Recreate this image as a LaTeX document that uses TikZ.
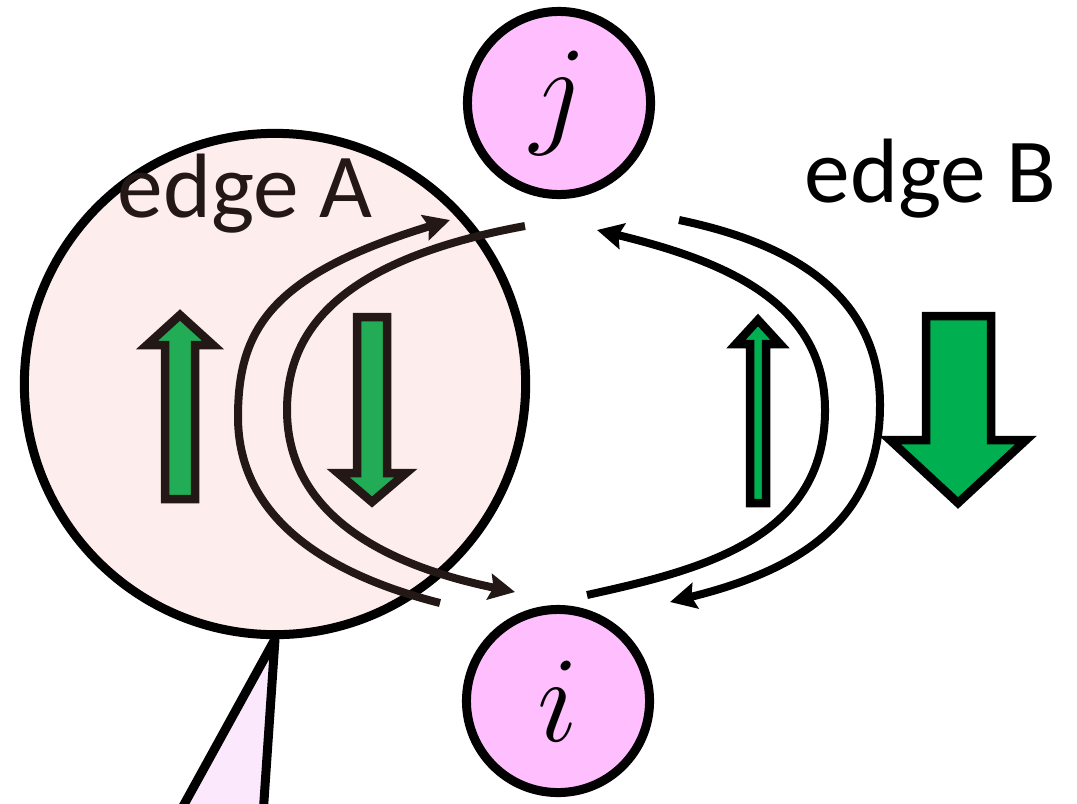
\documentclass[tikz,border=0pt]{standalone}
\usepackage{fontspec}
\newfontfamily\labelfont{Carlito}
\usetikzlibrary{arrows.meta}

\definecolor{darkbrown}{HTML}{231815}
\definecolor{vertexpink}{HTML}{FFBFFF}
\definecolor{regionpink}{HTML}{FEEDED}
\definecolor{calloutpink}{HTML}{FCE8FC}
\definecolor{greenA}{HTML}{22AC55}
\definecolor{greenB}{HTML}{00B050}

% enlarged math letter for the vertices
\newcommand{\vlabel}[1]{\scalebox{1.4}{$#1$}}

\begin{document}
\begin{tikzpicture}[
  x=0.01cm, y=-0.01cm,
  vertex/.style={circle, draw, line width=0.09cm, fill=vertexpink,
                 minimum size=1.83cm, inner sep=0pt,
                 font=\fontsize{24.88}{30}\selectfont},
  region/.style={circle, draw, line width=0.09cm, fill=regionpink,
                 minimum size=5.01cm, inner sep=0pt},
  lbl/.style={font=\labelfont\fontsize{26}{31}\selectfont,
              inner sep=0pt, anchor=base west},
  flow/.style={line width=0.08cm,
               -{Stealth[length=0.26cm, width=0.26cm, inset=0.04cm]}},
  fatarrow/.style={line width=0.085cm, miter limit=10}
]
  \useasboundingbox (0,0) rectangle (1077,803);
  \clip (0,0) rectangle (1077,803);

  % shaded region round edge A
  \node[region] (regA) at (275,384) {};

  % callout pointing at the region
  \draw[line width=0.09cm, line join=round, fill=calloutpink]
    (170,830) -- (regA.south) -- (262,830);

  % vertices
  \node[vertex] (j) at (559,103) {\vlabel{j}};
  \node[vertex] (i) at (558,701) {\vlabel{i}};

  % free ends of the flows
  \coordinate (a1) at (440,603);
  \coordinate (a2) at (450,220);
  \coordinate (a3) at (525,226);
  \coordinate (a4) at (515,592);
  \coordinate (b1) at (587,595);
  \coordinate (b2) at (597,230);
  \coordinate (b3) at (679,220);
  \coordinate (b4) at (670,602);

  % edge A: i -> j and j -> i
  \draw[flow, darkbrown] (a1) .. controls (330,575) and (238,520) .. (238,417)
                               .. controls (238,330) and (270,275) .. (a2);
  \draw[flow, darkbrown] (a3) .. controls (340,260) and (287,330) .. (287,410)
                               .. controls (287,500) and (360,560) .. (a4);

  % edge B: i -> j and j -> i
  \draw[flow] (b1) .. controls (700,570) and (825,540) .. (825,410)
                   .. controls (825,300) and (720,260) .. (b2);
  \draw[flow] (b3) .. controls (800,245) and (880,300) .. (880,405)
                   .. controls (880,520) and (800,570) .. (b4);

  % flow sizes on edge A
  \draw[fatarrow, draw=darkbrown, fill=greenA]
    (165,499) -- (165,345) -- (147,345) -- (180,315) -- (213,345)
    -- (195,345) -- (195,499) -- cycle;
  \draw[fatarrow, draw=darkbrown, fill=greenA]
    (357,317) -- (387,317) -- (387,473) -- (406,473) -- (372,502)
    -- (338,473) -- (357,473) -- cycle;

  % flow sizes on edge B
  \draw[fatarrow, fill=greenB]
    (750,503) -- (750,344) -- (736,344) -- (758,320) -- (780,344)
    -- (766,344) -- (766,503) -- cycle;
  \draw[fatarrow, fill=greenB]
    (926,316) -- (991,316) -- (991,440) -- (1026,440) -- (958,503)
    -- (890,440) -- (926,440) -- cycle;

  % labels
  \node[lbl, text=darkbrown] (labA) at (117,217) {edge A};
  \node[lbl] (labB) at (804,202) {edge B};
\end{tikzpicture}
\end{document}
